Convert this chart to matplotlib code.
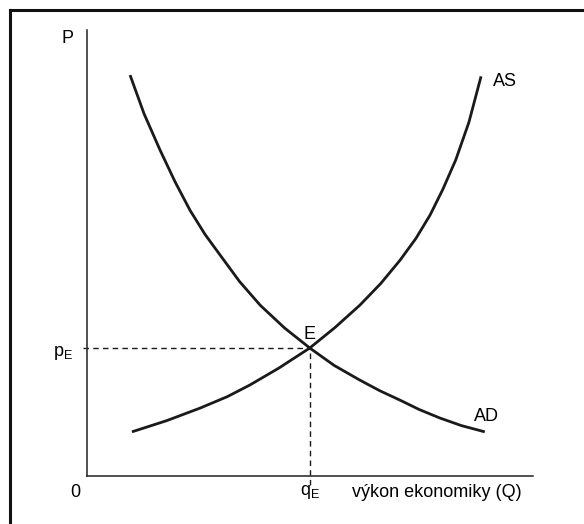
import matplotlib
matplotlib.use("Agg")
import matplotlib.pyplot as plt
from matplotlib.lines import Line2D

plt.rcParams['font.family'] = ['Liberation Sans', 'DejaVu Sans']
plt.rcParams['mathtext.default'] = 'regular'

# points (Q = output, P = price level, both 0..100)
as_q = [9.6, 17.0, 24.1, 30.0, 34.8, 41.0, 47.6, 53.0, 58.3, 62.8, 66.9, 70.3, 73.3, 76.0, 78.8, 81.6, 84.2]
as_p = [9.9, 12.4, 15.2, 17.8, 20.4, 24.2, 28.7, 33.3, 38.3, 43.2, 48.4, 53.3, 58.5, 64.2, 70.9, 79.3, 89.6]

ad_q = [9.2, 12.2, 15.6, 18.8, 22.0, 25.2, 28.4, 32.6, 37.0, 42.2, 47.6, 52.8, 58.3, 62.6, 66.9, 71.0, 75.4, 80.0, 85.0]
ad_p = [89.9, 81.2, 73.1, 66.0, 59.6, 54.2, 49.6, 43.6, 38.3, 33.2, 28.7, 24.8, 21.5, 19.1, 17.0, 14.9, 13.0, 11.3, 9.9]

eq_q, eq_p = 47.6, 28.7

fig = plt.figure(figsize=(5.84, 5.24), dpi=100)
fig.patch.set_facecolor('white')

# scan frame (top and left edge only)
fig.add_artist(Line2D([10 / 584, 1.0], [1 - 10 / 524, 1 - 10 / 524], color='#111111', lw=2.2))
fig.add_artist(Line2D([10 / 584, 10 / 584], [0.0, 1 - 10 / 524], color='#111111', lw=2.2))

ax = fig.add_axes([87 / 584, 48 / 524, 468 / 584, 446 / 524])
ax.set_xlim(0, 100)
ax.set_ylim(0, 100)
for s in ['top', 'right']:
    ax.spines[s].set_visible(False)
for s in ['left', 'bottom']:
    ax.spines[s].set_linewidth(1.1)
    ax.spines[s].set_color('#222222')
ax.spines['bottom'].set_bounds(0, 95.3)
ax.set_xticks([])
ax.set_yticks([])
ax.patch.set_alpha(0)

line_col = '#1a1a1a'
ax.plot(as_q, as_p, color=line_col, lw=2.0, solid_capstyle='butt')
ax.plot(ad_q, ad_p, color=line_col, lw=2.0, solid_capstyle='butt')

# dashed guides to the equilibrium
ax.plot([-0.9, eq_q], [eq_p, eq_p], color=line_col, lw=1.0, ls=(0, (4, 3)), clip_on=False)
ax.plot([eq_q, eq_q], [-2.0, eq_p], color=line_col, lw=1.0, ls=(0, (4, 3)), clip_on=False)

fs = 13
ax.text(-4.1, 98.2, 'P', fontsize=fs, ha='center', va='center', clip_on=False)
ax.text(-2.6, -3.8, '0', fontsize=fs, ha='center', va='center', clip_on=False)
ax.text(eq_q, -3.6, 'q$_{E}$', fontsize=fs, ha='center', va='center', clip_on=False)
ax.text(56.6, -3.8, 'výkon ekonomiky (Q)', fontsize=fs, ha='left', va='center', clip_on=False)
ax.text(-5.2, 27.6, 'p$_{E}$', fontsize=fs, ha='center', va='center', clip_on=False)
ax.text(eq_q, 31.8, 'E', fontsize=fs, ha='center', va='center')
ax.text(86.8, 88.4, 'AS', fontsize=fs, ha='left', va='center')
ax.text(82.7, 13.4, 'AD', fontsize=fs, ha='left', va='center')

fig.savefig('out.png', dpi=100, facecolor='white')
